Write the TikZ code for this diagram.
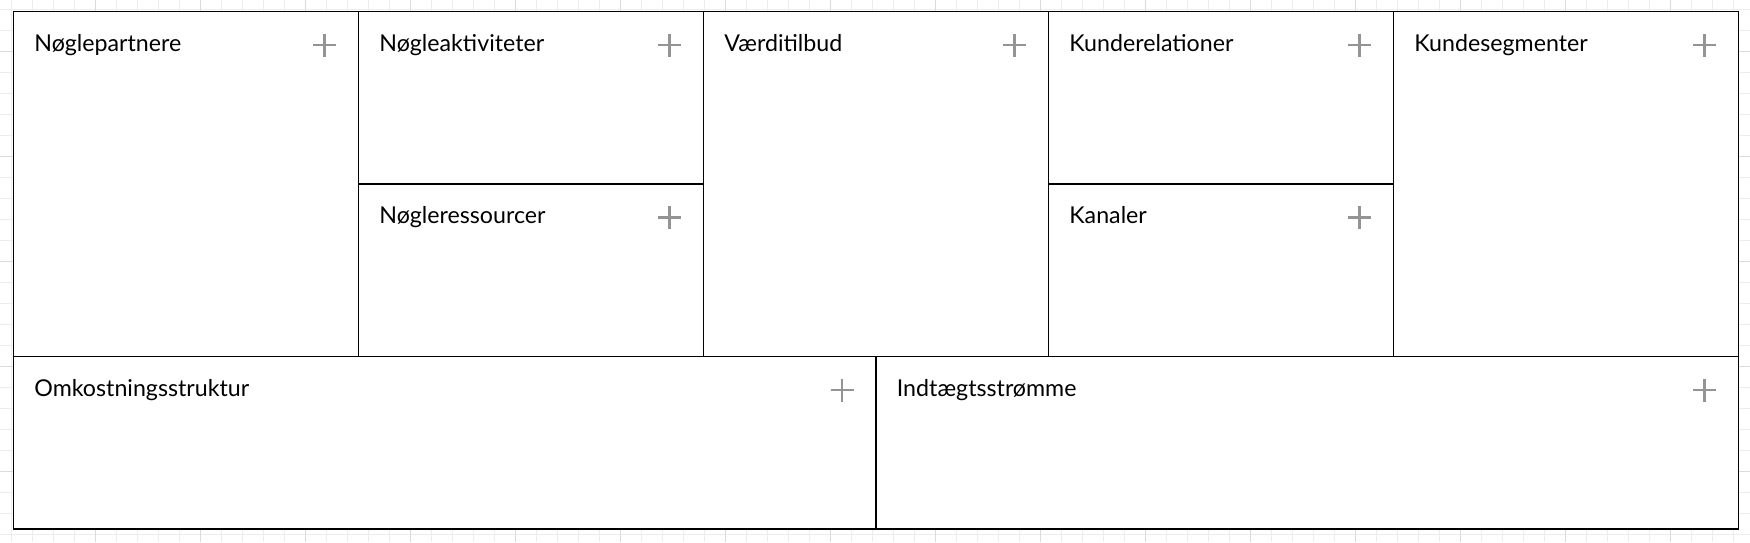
\documentclass[tikz,border=0pt]{standalone}
\usepackage{fontspec}
\setmainfont{Lato}
\usepackage{tikz}
\usetikzlibrary{positioning,calc}

\tikzset{
    minorline/.style={draw=black!7, line width=0.5pt},
    majorline/.style={draw=black!14, line width=0.5pt},
    cellbox/.style={draw=black, line width=0.7pt},
    celltitle/.style={anchor=base west, inner sep=0pt, font=\fontsize{11.6}{14}\selectfont},
    plussign/.style={draw=black!42, line width=1.1pt}
}

\begin{document}
\begin{tikzpicture}[x=0.5pt,y=-0.5pt]
    \useasboundingbox (0,0) rectangle (1750,542);
    % background grid
    \foreach \k in {0,...,83}
        \draw[minorline] (11+21*\k,0) -- (11+21*\k,542);
    \foreach \k in {0,...,25}
        \draw[minorline] (0,9+21*\k) -- (1750,9+21*\k);
    \foreach \k in {0,...,15}
        \draw[majorline] (95+105*\k,0) -- (95+105*\k,542);
    \foreach \k in {0,...,4}
        \draw[majorline] (0,51+105*\k) -- (1750,51+105*\k);
    % canvas
    \draw[cellbox, fill=white] (13.5,11.5) rectangle (1738.5,529);
    \foreach \xa/\ya/\xb/\yb/\id/\txt in {
        13.5/11.5/358.5/356.5/partners/Nøglepartnere,
        358.5/11.5/703.5/184/activities/Nøgleaktiviteter,
        358.5/184/703.5/356.5/resources/Nøgleressourcer,
        703.5/11.5/1048.5/356.5/value/Værditilbud,
        1048.5/11.5/1393.5/184/relations/Kunderelationer,
        1048.5/184/1393.5/356.5/channels/Kanaler,
        1393.5/11.5/1738.5/356.5/segments/Kundesegmenter,
        13.5/356.5/876/529/costs/Omkostningsstruktur,
        876/356.5/1738.5/529/revenue/Indtægtsstrømme}
    {
        \draw[cellbox] (\xa,\ya) rectangle (\xb,\yb);
        \node[celltitle] (\id) at (\xa+20.5,\ya+39.5) {\txt};
        \draw[plussign] (\xb-45.5,\ya+33.5) -- (\xb-22.5,\ya+33.5)
            (\xb-34,\ya+22) -- (\xb-34,\ya+45); % add button
    }
\end{tikzpicture}
\end{document}
